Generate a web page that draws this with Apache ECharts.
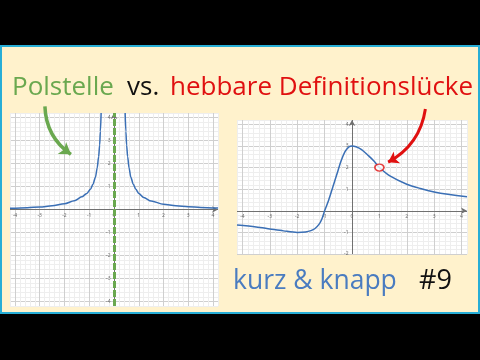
<!DOCTYPE html>
<html><head><meta charset="utf-8">
<script src="https://cdn.jsdelivr.net/npm/echarts@6/dist/echarts.min.js"></script>
<style>html,body{margin:0;padding:0;background:#000}#c{width:480px;height:360px}</style>
</head><body><div id="c"></div>
<script>
// ---- data ----
const xTicks = [-4, -3, -2, -1, 0, 1, 2, 3, 4];
const yTicksLeft = [-4, -3, -2, -1, 1, 2, 3, 4];
const yTicksRight = [-2, -1, 1, 2, 3, 4];
// Polstelle curve (two branches)
const poleLeftX = [-4.2, -3.5, -3, -2.5, -2, -1.6, -1.3, -1.1, -0.95, -0.85, -0.75, -0.68, -0.62, -0.58, -0.55, -0.52];
const poleLeftY = [0.05, 0.08, 0.11, 0.16, 0.25, 0.38, 0.55, 0.7, 0.88, 1.1, 1.4, 1.8, 2.3, 2.8, 3.4, 4.2];
const poleRightX = [0.45, 0.48, 0.51, 0.55, 0.61, 0.68, 0.78, 0.88, 1.0, 1.2, 1.5, 2.0, 2.5, 3.0, 3.5, 4.2];
const poleRightY = [4.2, 3.4, 2.8, 2.3, 1.8, 1.4, 1.1, 0.88, 0.7, 0.52, 0.37, 0.23, 0.16, 0.12, 0.09, 0.06];
const asymptoteX = 0;
// hebbare Definitionslücke curve
const hebX = [-4.2, -3.5, -3, -2.5, -2, -1.7, -1.5, -1.35, -1.2, -1.1, -1, -0.85, -0.7, -0.55, -0.4, -0.25, -0.1, 0, 0.15, 0.35, 0.6, 0.8, 1, 1.4, 2, 2.5, 3, 3.5, 4.2];
const hebY = [-0.66, -0.75, -0.84, -0.93, -1.0, -0.98, -0.92, -0.82, -0.62, -0.38, 0, 0.5, 1.1, 1.7, 2.3, 2.75, 2.97, 3.0, 2.96, 2.83, 2.55, 2.3, 2.0, 1.6, 1.23, 1.03, 0.87, 0.76, 0.65];
const holePoint = [1, 2];
// annotation arrows (data coordinates)
const greenArrow = [[-2.79, 4.49], [-1.74, 2.4]];
const redArrow = [[2.68, 4.71], [1.32, 2.25]];
// texts
const titleLeft = 'Polstelle';
const titleMid = 'vs.';
const titleRight = 'hebbare Definitionslücke';
const subtitle = 'kurz & knapp';
const episode = '#9';

const zip = (a, b) => a.map((v, i) => [v, b[i]]);
const FONT = '"Open Sans", "Noto Sans", sans-serif';
const blue = '#3a6fb5';

function majorX(grid) {
  return { gridIndex: grid, type: 'value', min: -4.2, max: 4.2, position: 'bottom',
    axisLine: { show: false, onZero: false },
    axisTick: { show: false, customValues: xTicks },
    axisLabel: { show: false, customValues: xTicks },
    splitLine: { show: true, lineStyle: { color: '#cfcfcf', width: 1 } } };
}
function minorX(grid) {
  return { gridIndex: grid, type: 'value', min: -4.2, max: 4.2, interval: 0.2, position: 'top',
    axisLine: { show: false, onZero: false }, axisTick: { show: false }, axisLabel: { show: false },
    splitLine: { show: true, lineStyle: { color: '#eeeeee', width: 1 } } };
}
function majorY(grid, min, ticks) {
  return { gridIndex: grid, type: 'value', min: min, max: 4.2, position: 'left',
    axisLine: { show: false, onZero: false },
    axisTick: { show: false, customValues: ticks },
    axisLabel: { show: false, customValues: ticks },
    splitLine: { show: true, lineStyle: { color: '#cfcfcf', width: 1 } } };
}
function minorY(grid, min) {
  return { gridIndex: grid, type: 'value', min: min, max: 4.2, interval: 0.2, position: 'right',
    axisLine: { show: false, onZero: false }, axisTick: { show: false }, axisLabel: { show: false },
    splitLine: { show: true, lineStyle: { color: '#eeeeee', width: 1 } } };
}
// tick labels + axis line through zero, drawn in data coordinates of the chart
function axisAt(xIdx, yIdx, values, isX) {
  return { type: 'scatter', xAxisIndex: xIdx, yAxisIndex: yIdx, silent: true, z: 4,
    symbolSize: 1, itemStyle: { color: 'transparent' },
    data: values.map(v => isX ? [v, 0] : [0, v]),
    label: { show: true, position: isX ? 'bottom' : 'left', distance: 3,
      fontSize: 5, color: '#444', fontFamily: FONT,
      formatter: p => String(isX ? p.value[0] : p.value[1]) },
    markLine: { silent: true, symbol: ['none', 'arrow'], symbolSize: [5, 6], label: { show: false },
      lineStyle: { color: '#707070', width: 1, type: 'solid' },
      data: [isX ? { yAxis: 0 } : { xAxis: 0 }] } };
}

const chart = echarts.init(document.getElementById('c'), null, { renderer: 'canvas' });
chart.setOption({
  animation: false,
  backgroundColor: '#000',
  grid: [
    { left: 10, top: 113, width: 208, height: 193, show: true, backgroundColor: '#fff', borderWidth: 0 },
    { left: 237, top: 120, width: 230, height: 134, show: true, backgroundColor: '#fff', borderWidth: 0 }
  ],
  xAxis: [minorX(0), majorX(0), minorX(1), majorX(1)],
  yAxis: [minorY(0, -4.2), majorY(0, -4.2, yTicksLeft), minorY(1, -2), majorY(1, -2, yTicksRight)],
  graphic: [
    { type: 'rect', z: -10, shape: { x: 1, y: 46, width: 478, height: 267 },
      style: { fill: '#fff2cc', stroke: '#27aed6', lineWidth: 2 } },
    { type: 'text', left: 12, top: 75, style: { text: titleLeft, font: '26px ' + FONT, fill: '#6aa84f' } },
    { type: 'text', left: 127, top: 75, style: { text: titleMid, font: '26px ' + FONT, fill: '#111' } },
    { type: 'text', left: 170, top: 75, style: { text: titleRight, font: '26px ' + FONT, fill: '#e01010' } },
    { type: 'text', left: 233, top: 268, style: { text: subtitle, font: '26.5px ' + FONT, fill: '#4a7cc0' } },
    { type: 'text', left: 419, top: 268, style: { text: episode, font: '27px ' + FONT, fill: '#111' } }
  ],
  series: [
    axisAt(1, 1, xTicks, true),
    axisAt(1, 1, yTicksLeft, false),
    axisAt(3, 3, xTicks, true),
    axisAt(3, 3, yTicksRight, false),
    { type: 'line', xAxisIndex: 1, yAxisIndex: 1, z: 5, data: zip(poleLeftX, poleLeftY), smooth: 0.3, smoothMonotone: 'x', showSymbol: false,
      lineStyle: { color: blue, width: 1.5 } },
    { type: 'line', xAxisIndex: 1, yAxisIndex: 1, z: 5, data: zip(poleRightX, poleRightY), smooth: 0.3, smoothMonotone: 'x', showSymbol: false,
      lineStyle: { color: blue, width: 1.5 },
      markLine: { silent: true, symbol: 'none', label: { show: false },
        lineStyle: { color: '#6aa84f', width: 3, type: [7, 2] }, data: [{ xAxis: asymptoteX }] } },
    { type: 'lines', coordinateSystem: 'cartesian2d', xAxisIndex: 1, yAxisIndex: 1, clip: false, z: 6,
      symbol: ['none', 'arrow'], symbolSize: 11,
      lineStyle: { color: '#6aa84f', width: 3.5, curveness: -0.25, opacity: 1 },
      data: [{ coords: greenArrow }] },
    { type: 'line', xAxisIndex: 3, yAxisIndex: 3, z: 5, data: zip(hebX, hebY), smooth: 0.3, showSymbol: false,
      lineStyle: { color: blue, width: 1.5 } },
    { type: 'lines', coordinateSystem: 'cartesian2d', xAxisIndex: 3, yAxisIndex: 3, clip: false, z: 6,
      symbol: ['none', 'arrow'], symbolSize: 10,
      lineStyle: { color: '#e01010', width: 3, curveness: 0.25, opacity: 1 },
      data: [{ coords: redArrow }] },
    { type: 'scatter', xAxisIndex: 3, yAxisIndex: 3, z: 7, symbol: 'circle', symbolSize: [9, 7],
      itemStyle: { color: '#fff', borderColor: '#e01010', borderWidth: 1.5 }, data: [holePoint] }
  ]
});
</script></body></html>
